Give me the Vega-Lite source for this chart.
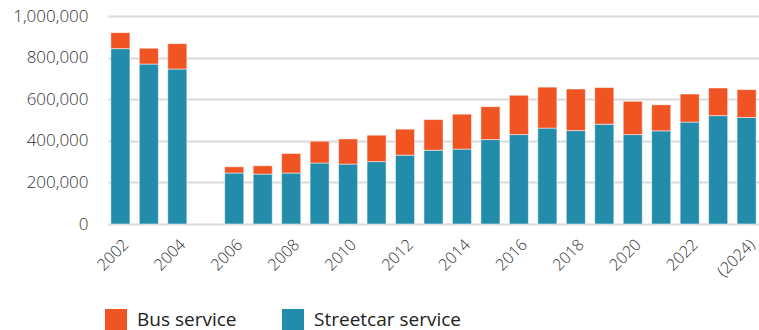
{
  "$schema": "https://vega.github.io/schema/vega-lite/v6.json",
  "width": 651,
  "height": 208,
  "autosize": "none",
  "padding": {"left": 108, "top": 16, "right": 0, "bottom": 106},
  "background": "white",
  "config": {
    "font": "Open Sans",
    "view": {"stroke": null},
    "axis": {"labelFont": "Open Sans", "labelColor": "#333333", "labelFontWeight": 300},
    "legend": {"labelFont": "Open Sans", "labelColor": "#222222"}
  },
  "data": {
    "values": [
      {"year": "2002", "series": "Streetcar service", "value": 843000},
      {"year": "2002", "series": "Bus service", "value": 77000},
      {"year": "2003", "series": "Streetcar service", "value": 769000},
      {"year": "2003", "series": "Bus service", "value": 76000},
      {"year": "2004", "series": "Streetcar service", "value": 745000},
      {"year": "2004", "series": "Bus service", "value": 122000},
      {"year": "2006", "series": "Streetcar service", "value": 245000},
      {"year": "2006", "series": "Bus service", "value": 30000},
      {"year": "2007", "series": "Streetcar service", "value": 240000},
      {"year": "2007", "series": "Bus service", "value": 40000},
      {"year": "2008", "series": "Streetcar service", "value": 245000},
      {"year": "2008", "series": "Bus service", "value": 94000},
      {"year": "2009", "series": "Streetcar service", "value": 293000},
      {"year": "2009", "series": "Bus service", "value": 105000},
      {"year": "2010", "series": "Streetcar service", "value": 288000},
      {"year": "2010", "series": "Bus service", "value": 121000},
      {"year": "2011", "series": "Streetcar service", "value": 300000},
      {"year": "2011", "series": "Bus service", "value": 127000},
      {"year": "2012", "series": "Streetcar service", "value": 331000},
      {"year": "2012", "series": "Bus service", "value": 125000},
      {"year": "2013", "series": "Streetcar service", "value": 355000},
      {"year": "2013", "series": "Bus service", "value": 147000},
      {"year": "2014", "series": "Streetcar service", "value": 360000},
      {"year": "2014", "series": "Bus service", "value": 168000},
      {"year": "2015", "series": "Streetcar service", "value": 406000},
      {"year": "2015", "series": "Bus service", "value": 158000},
      {"year": "2016", "series": "Streetcar service", "value": 430000},
      {"year": "2016", "series": "Bus service", "value": 189000},
      {"year": "2017", "series": "Streetcar service", "value": 461000},
      {"year": "2017", "series": "Bus service", "value": 197000},
      {"year": "2018", "series": "Streetcar service", "value": 449000},
      {"year": "2018", "series": "Bus service", "value": 200000},
      {"year": "2019", "series": "Streetcar service", "value": 480000},
      {"year": "2019", "series": "Bus service", "value": 176000},
      {"year": "2020", "series": "Streetcar service", "value": 430000},
      {"year": "2020", "series": "Bus service", "value": 160000},
      {"year": "2021", "series": "Streetcar service", "value": 448000},
      {"year": "2021", "series": "Bus service", "value": 125000},
      {"year": "2022", "series": "Streetcar service", "value": 490000},
      {"year": "2022", "series": "Bus service", "value": 135000},
      {"year": "2023", "series": "Streetcar service", "value": 521000},
      {"year": "2023", "series": "Bus service", "value": 133000},
      {"year": "(2024)", "series": "Streetcar service", "value": 512000},
      {"year": "(2024)", "series": "Bus service", "value": 134000}
    ]
  },
  "mark": {"type": "bar", "stroke": "white", "strokeWidth": 1, "strokeOpacity": 0.5},
  "encoding": {
    "x": {
      "field": "year",
      "type": "ordinal",
      "scale": {
        "domain": ["2002","2003","2004","2005","2006","2007","2008","2009","2010","2011","2012","2013","2014","2015","2016","2017","2018","2019","2020","2021","2022","2023","(2024)"],
        "paddingInner": 0.33,
        "paddingOuter": 0.1
      },
      "axis": {
        "title": null,
        "values": ["2002","2004","2006","2008","2010","2012","2014","2016","2018","2020","2022","(2024)"],
        "labelAngle": -45,
        "labelFontSize": 16,
        "labelPadding": 12,
        "ticks": false,
        "domain": false
      }
    },
    "y": {
      "field": "value",
      "type": "quantitative",
      "stack": "zero",
      "scale": {"domain": [0, 1000000], "nice": false},
      "axis": {
        "title": null,
        "values": [0, 200000, 400000, 600000, 800000, 1000000],
        "format": ",d",
        "labelFontSize": 17,
        "labelPadding": 20,
        "ticks": false,
        "domain": false,
        "gridColor": "#d9d9d9",
        "gridWidth": 2
      }
    },
    "color": {
      "field": "series",
      "type": "nominal",
      "scale": {"domain": ["Bus service", "Streetcar service"], "range": ["#f05423", "#238cab"]},
      "legend": {
        "title": null,
        "orient": "none",
        "legendX": -3,
        "legendY": 293,
        "direction": "horizontal",
        "symbolType": "square",
        "symbolSize": 484,
        "symbolStrokeWidth": 0,
        "labelFontSize": 19,
        "labelOffset": 10,
        "columnPadding": 45
      }
    },
    "order": {"field": "series", "sort": "descending"}
  }
}
